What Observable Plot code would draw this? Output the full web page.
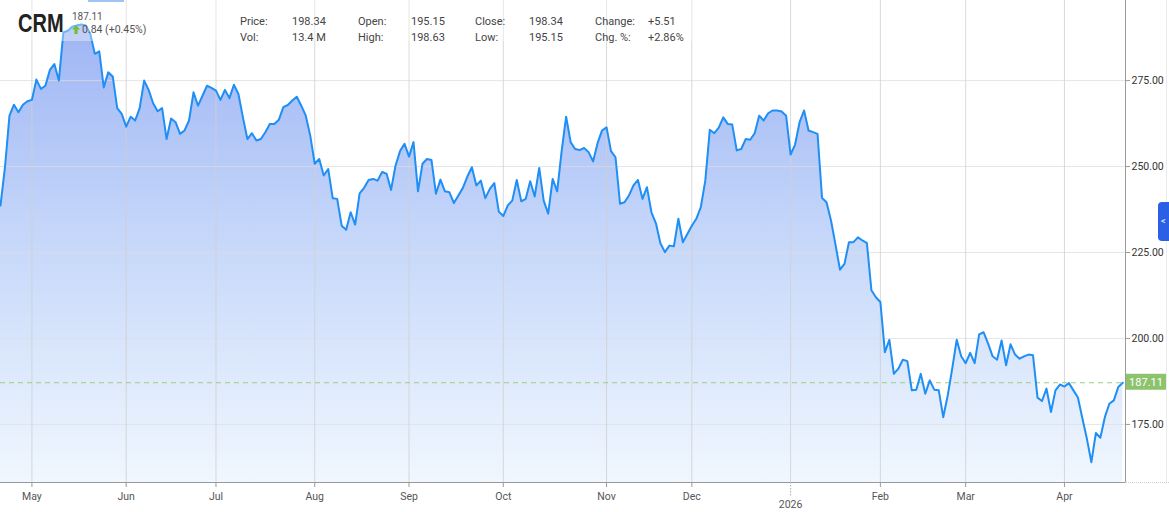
<!DOCTYPE html>
<html>
<head>
<meta charset="utf-8">
<script src="https://cdn.jsdelivr.net/npm/d3@7"></script>
<script src="https://cdn.jsdelivr.net/npm/@observablehq/plot@0.6"></script>
<style>
html,body{margin:0;padding:0;background:#fff;}
#wrap{position:relative;width:1169px;height:512px;overflow:hidden;font-family:Roboto,"Liberation Sans",sans-serif;}
#chart svg{display:block;}
.ov{position:absolute;}
#veil{left:0;top:0;width:700px;height:41px;background:rgba(255,255,255,0.35);pointer-events:none;}
#topbar{left:88px;top:0;width:36px;height:2px;background:#9fc3f5;}
#ticker{left:18px;top:9px;font-family:"Liberation Sans",Arial,sans-serif;font-weight:bold;font-size:25px;line-height:28px;color:#222;transform:scaleX(0.8);transform-origin:0 0;}
#last{left:72px;top:11px;font-size:10px;line-height:12px;color:#555;}
#chg{left:72px;top:23px;font-size:10.5px;line-height:13px;color:#555;display:flex;align-items:center;gap:2px;}
.info{font-size:11px;line-height:13px;color:#444;white-space:nowrap;}
#tab{left:1158px;top:202px;width:14px;height:39px;background:#2b5fe6;border-radius:4px 0 0 4px;color:#fff;font-size:9px;line-height:39px;text-indent:3px;}
#edge{left:1166px;top:0;width:1px;height:484px;background:#ececec;}
#bline{left:1125px;top:482px;width:44px;height:0;border-top:1px dotted #cfcfcf;}
</style>
</head>
<body>
<div id="wrap">
  <div id="chart"></div>
</div>
<script>
// ---------------- data ----------------
const ticker = "CRM";
const lastPrice = 187.11;
const lastChange = "0.84 (+0.45%)";
const infoLabels = [["Price:", "Vol:"], ["Open:", "High:"], ["Close:", "Low:"], ["Change:", "Chg. %:"]];
const infoValues = [["198.34", "13.4 M"], ["195.15", "198.63"], ["198.34", "195.15"], ["+5.51", "+2.86%"]];

// daily closes, one per trading day (Apr 2025 – Apr 2026)
const prices = [
  238.7, 249.8, 264.8, 268, 265.8, 268, 269, 269.4, 275.3, 272.6,
  273.5, 278.1, 279.8, 275, 289, 289.5, 290.7, 291, 291.3, 291,
  288.6, 282.8, 283.5, 273, 277.4, 276.2, 267, 265.3, 261.6, 264.5,
  263.4, 267, 275, 272.3, 268.4, 266.1, 267, 258, 264, 262.9,
  259.5, 260.5, 263.4, 271.6, 267.7,
  270.6, 273.5, 272.9, 272.1, 269.4, 272.3, 269.9, 273.8, 271.1, 264.3,
  258, 259.7, 257.6, 258, 260, 262.4, 262.4, 263.6, 267.3, 267.9,
  269.2, 270.3, 267.7, 264.8, 259, 250.8, 252.2, 247.4, 249.3, 240.8,
  240.6, 232.8, 231.6, 236.7, 233.1, 242.2, 243.8, 246.1, 246.4, 245.9,
  248.4, 247.9,
  243.2, 250.3, 254.5, 256.6, 252.9, 257.1, 242.8, 250.8, 252.2, 251.9,
  242.1, 246.2, 242.8, 242.5, 239.4, 241.6, 243.8, 247.1, 249.8, 244.5,
  245.9, 240.8, 243.5, 245.2, 236.9, 235.6, 238.7, 240.1, 246.1, 239.9,
  240.6, 245.7, 241.3, 249.6, 240.1, 236.3, 246.4, 242.8, 254.5, 264.5,
  257.1, 255.1, 254.8, 255.4, 254.2, 251.5, 256.8, 260.5, 261.4, 254.5,
  252.7, 239.2, 239.6, 241.6, 244.5, 246.1, 240.6, 244, 236.7, 233.5,
  227.7, 225.1, 227, 226.8, 234.8, 228, 230.4, 232.8, 234.8, 238.2,
  245.9, 260.7, 259.7, 261.3, 264.3, 262.4, 262.2, 254.7, 255.1, 258,
  257.8, 259.7, 264.8, 263.4, 265.5,
  266.3, 266.3, 266, 264.8, 253.5, 256.4, 262.9, 266.3, 260.5, 260,
  259.5, 240.9, 239.6, 234.3, 227.3, 220, 221.7, 228, 228, 229.4,
  228.5, 227.7, 214, 212, 210.6, 196, 199.6, 189.7, 191.2, 193.8,
  193.4, 184.9, 185.1, 189.7, 183.9,
  187.8, 185.1, 184.9, 177.1, 183.4, 191.2, 199.6, 194.8, 192.8, 195.8,
  192.8, 201.2, 201.8, 198.5, 194.8, 193.8, 199.4, 192.2, 198.3, 195.3,
  194.1, 194.8, 195.3, 195.1, 182.8, 181.8, 185.4, 178.6, 184.9, 186.6,
  186, 187, 184.9, 182.8, 176.7, 170.8, 164, 172.5, 171.1, 177.1,
  181, 182, 185.9, 187.11
];

// x ticks: trading-day index of each month's first session
const monthTickIdx = [7, 28, 48, 70, 91, 112, 135, 154, 196, 215, 237];
const monthTickLabels = ["May", "Jun", "Jul", "Aug", "Sep", "Oct", "Nov", "Dec", "Feb", "Mar", "Apr"];
const yearTickIdx = [176];
const yearTickLabels = ["2026"];
const yTicks = [175, 200, 225, 250, 275];
const yDomain = [158.1, 298.3];
const xDomain = [0, 250.6];

// ---------------- chart ----------------
const data = prices.map((v, i) => ({i, v}));
const gridX = monthTickIdx.concat(yearTickIdx);

function defsMark() {
  const defs = d3.create("svg:defs");
  const g = defs.append("linearGradient").attr("id", "crmGrad")
    .attr("gradientUnits", "userSpaceOnUse").attr("x1", 0).attr("x2", 0).attr("y1", 0).attr("y2", 482);
  g.append("stop").attr("offset", "0%").attr("stop-color", "#9ab1f4");
  g.append("stop").attr("offset", "45%").attr("stop-color", "#c2d4f9");
  g.append("stop").attr("offset", "100%").attr("stop-color", "#f0f7fe");
  return defs.node();
}

function priceTag(index, scales, values, dims) {
  const W = dims ? dims.width : 1169, mr = dims ? dims.marginRight : 44;
  const yF = (scales && scales.y) ? scales.y : d3.scaleLinear(yDomain, [482, 0]);
  const y = yF(lastPrice);
  const x0 = W - mr;
  const g = d3.create("svg:g");
  g.append("rect").attr("x", x0 + 1).attr("y", y - 8.5).attr("width", 40).attr("height", 16).attr("fill", "#8cc36c");
  g.append("text").attr("x", x0 + 21).attr("y", y).attr("dy", "0.35em").attr("text-anchor", "middle")
    .attr("fill", "#fff").attr("font-size", 11).attr("font-family", "Roboto, sans-serif").text(lastPrice.toFixed(2));
  return g.node();
}

const chart = Plot.plot({
  width: 1169,
  height: 512,
  marginLeft: 0,
  marginRight: 44,
  marginTop: 0,
  marginBottom: 30,
  style: {fontFamily: "Roboto, sans-serif", fontSize: "10.5px", background: "transparent", overflow: "visible"},
  x: {domain: xDomain, axis: null},
  y: {domain: yDomain, axis: null},
  marks: [
    defsMark,
    Plot.areaY(data, {x: "i", y1: yDomain[0], y2: "v", fill: "url(#crmGrad)"}),
    Plot.ruleY(yTicks, {stroke: "#dcdcdc", strokeOpacity: 0.75}),
    Plot.ruleX(gridX, {stroke: "#cfcfcf", strokeOpacity: 0.8}),
    Plot.ruleY([lastPrice], {stroke: "#9fcd86", strokeWidth: 1.2, strokeDasharray: "5,4"}),
    Plot.lineY(data, {x: "i", y: "v", stroke: "#1f8ff5", strokeWidth: 2, strokeLinejoin: "round"}),
    Plot.ruleY([yDomain[0]], {stroke: "#9a9a9a"}),
    Plot.ruleX([xDomain[1]], {stroke: "#9a9a9a"}),
    Plot.axisY({anchor: "right", ticks: yTicks, tickFormat: d3.format(".2f"), tickSize: 4, tickPadding: 2,
      fill: "#333", stroke: "#999", label: null, fontSize: 10.5}),
    Plot.axisX({anchor: "bottom", ticks: monthTickIdx, tickFormat: d => monthTickLabels[monthTickIdx.indexOf(d)],
      tickSize: 5, tickPadding: 5, fill: "#555", stroke: "#999", label: null, fontSize: 10.5}),
    Plot.axisX({anchor: "bottom", ticks: yearTickIdx, tickFormat: d => yearTickLabels[yearTickIdx.indexOf(d)],
      tickSize: 15, tickPadding: 3, fill: "#555", stroke: "#aaa", strokeDasharray: "1.5,1.5", label: null, fontSize: 10.5}),
    priceTag
  ]
});
const wrap = document.getElementById("wrap");
document.getElementById("chart").appendChild(chart);

// ---------------- header overlay ----------------
function addDiv(id, cls, html, style) {
  const d = document.createElement("div");
  if (id) d.id = id;
  d.className = "ov" + (cls ? " " + cls : "");
  d.innerHTML = html;
  if (style) d.setAttribute("style", style);
  wrap.appendChild(d);
  return d;
}
addDiv("veil", "", "");
addDiv("topbar", "", "");
addDiv("edge", "", "");
addDiv("bline", "", "");
addDiv("ticker", "", ticker);
addDiv("last", "", lastPrice.toFixed(2));
addDiv("chg", "", '<svg width="8" height="9" viewBox="0 0 8 9"><path d="M4 0 L8 4.5 L5.6 4.5 L5.6 9 L2.4 9 L2.4 4.5 L0 4.5 Z" fill="#6fbf3a"/></svg><span>' + lastChange + '</span>');
const labelX = [240, 358, 475, 595];
const valueX = [292, 411, 529, 648];
const rowY = [15, 31];
infoLabels.forEach((col, c) => col.forEach((t, r) => addDiv(null, "info", t, `left:${labelX[c]}px;top:${rowY[r]}px;`)));
infoValues.forEach((col, c) => col.forEach((t, r) => addDiv(null, "info", t, `left:${valueX[c]}px;top:${rowY[r]}px;`)));
addDiv("tab", "", "&lt;");
</script>
</body>
</html>
